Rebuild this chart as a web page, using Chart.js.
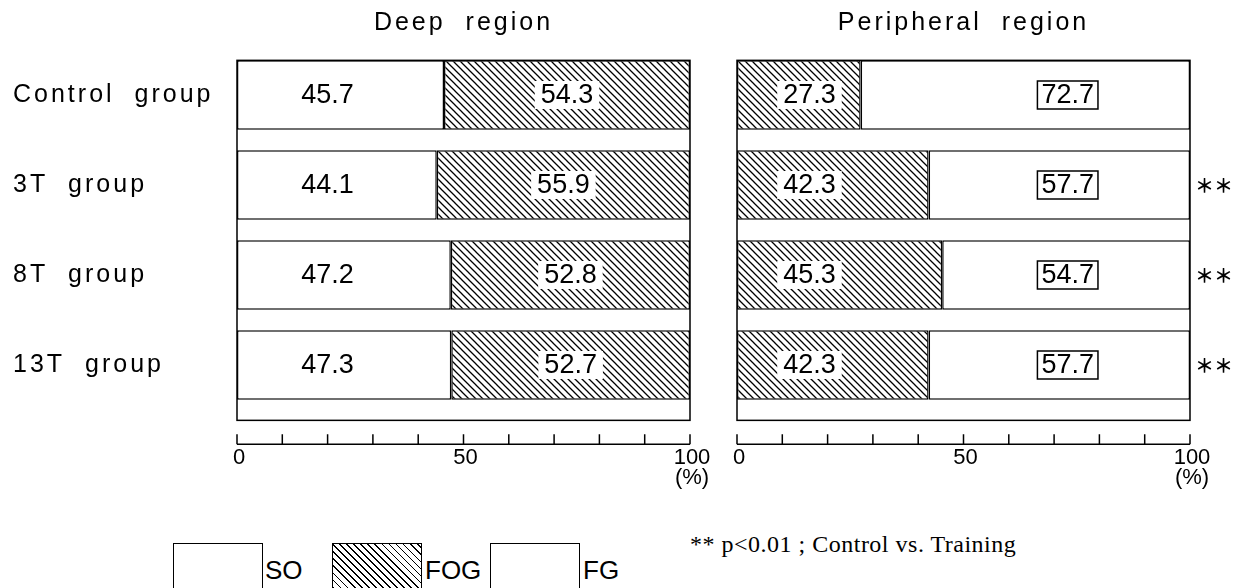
<!DOCTYPE html>
<html>
<head>
<meta charset="utf-8">
<script src="https://cdn.jsdelivr.net/npm/chart.js@4.4.1/dist/chart.umd.min.js"></script>
<style>
  body { margin: 0; width: 1236px; height: 588px; overflow: hidden; background: #fff; position: relative; font-family: "Liberation Sans", Arial, sans-serif; }
  #deepBox { position: absolute; left: 0; top: 0; width: 712px; height: 500px; }
  #periBox { position: absolute; left: 712px; top: 0; width: 524px; height: 500px; }
  .key { position: absolute; top: 543px; width: 90px; height: 60px; border: 1.5px solid #000; box-sizing: border-box; background: #fff; }
  .hatch { background: repeating-linear-gradient(45deg, #000 0 1.2px, #fff 1.2px 5px); }
  .keyText { position: absolute; top: 555px; font-size: 26px; color: #000; }
  #note { position: absolute; left: 690px; top: 531px; font-family: "Liberation Serif", serif; font-size: 24px; letter-spacing: 0.5px; color: #000; }
</style>
</head>
<body>
<div id="deepBox"><canvas id="deep"></canvas></div>
<div id="periBox"><canvas id="peri"></canvas></div>

<div class="key" style="left:173px"></div><div class="keyText" style="left:265px">SO</div>
<div class="key hatch" style="left:332px"></div><div class="keyText" style="left:425px">FOG</div>
<div class="key" style="left:490px"></div><div class="keyText" style="left:583px">FG</div>
<div id="note">** p&lt;0.01 ; Control vs. Training</div>

<script>
// values (% of fibres)
const groups = ['Control group', '3T group', '8T group', '13T group'];
const deepSO = [45.7, 44.1, 47.2, 47.3];
const deepFOG = [54.3, 55.9, 52.8, 52.7];
const periFOG = [27.3, 42.3, 45.3, 42.3];
const periFG = [72.7, 57.7, 54.7, 57.7];
const periSig = ['', '**', '**', '**'];
const xLabels = [0, 50, 100];
const xUnit = '(%)';

const BAR_PCT = 0.77;
const SANS = '"Liberation Sans", Arial, sans-serif';

function hatch(ctx) {
  const c = document.createElement('canvas');
  c.width = 7; c.height = 7;
  const g = c.getContext('2d');
  g.fillStyle = '#fff';
  g.fillRect(0, 0, 7, 7);
  g.strokeStyle = '#000';
  g.lineWidth = 1.3;
  g.beginPath();
  g.moveTo(-1, -1); g.lineTo(8, 8);
  g.moveTo(-1, 6); g.lineTo(1, 8);
  g.moveTo(6, -1); g.lineTo(8, 1);
  g.stroke();
  return ctx.createPattern(c, 'repeat');
}

function spaced(ctx, on) {
  ctx.letterSpacing = on ? '3px' : '0px';
  ctx.wordSpacing = on ? '10px' : '0px';
}

// frame, bottom axis, value labels, stars
const decor = {
  id: 'decor',
  beforeUpdate(chart) { spaced(chart.ctx, true); },
  beforeDraw(chart) { spaced(chart.ctx, true); },
  afterDatasetsDraw(chart) {
    const ctx = chart.ctx;
    const xs = chart.scales.x, ys = chart.scales.y;
    const slot = ys.getPixelForValue(1) - ys.getPixelForValue(0);
    const thick = slot * BAR_PCT;
    const top = ys.getPixelForValue(0) - thick / 2;
    const bottom = ys.getPixelForValue(groups.length - 1) + thick / 2 + (slot - thick);
    const left = xs.getPixelForValue(0), right = xs.getPixelForValue(100);
    ctx.save();
    spaced(ctx, false);
    ctx.strokeStyle = '#000';
    ctx.fillStyle = '#000';
    ctx.lineWidth = 1.5;
    ctx.strokeRect(left, top, right - left, bottom - top);

    // axis below the frame
    const ay = bottom + 24;
    ctx.beginPath();
    ctx.moveTo(left, ay); ctx.lineTo(right, ay);
    xs.ticks.forEach(t => {
      const px = xs.getPixelForValue(t.value);
      ctx.moveTo(px, ay); ctx.lineTo(px, ay - 10);
    });
    ctx.stroke();
    ctx.font = '22px ' + SANS;
    ctx.textAlign = 'center';
    ctx.textBaseline = 'middle';
    xLabels.forEach(v => ctx.fillText(String(v), xs.getPixelForValue(v) + 2, ay + 14));
    ctx.fillText(xUnit, xs.getPixelForValue(100) + 2, ay + 34);

    // values inside bars
    ctx.font = '27px ' + SANS;
    chart.data.datasets.forEach((ds, di) => {
      const meta = chart.getDatasetMeta(di);
      meta.data.forEach((bar, i) => {
        const txt = ds.data[i].toFixed(1);
        const cx = ds.labelAt != null ? xs.getPixelForValue(ds.labelAt) : (bar.x + bar.base) / 2;
        const cy = bar.y;
        const w = ctx.measureText(txt).width;
        if (ds.labelBox) {
          const pad = ds.labelBox === 'framed' ? 4 : 6;
          ctx.fillStyle = '#fff';
          ctx.fillRect(cx - w / 2 - pad, cy - 14, w + pad * 2, 28);
          if (ds.labelBox === 'framed') {
            ctx.lineWidth = 1.5;
            ctx.strokeRect(cx - w / 2 - pad, cy - 14, w + pad * 2, 28);
          }
        }
        ctx.fillStyle = '#000';
        ctx.fillText(txt, cx, cy + 1);
      });
    });

    const sig = chart.options.plugins.decor && chart.options.plugins.decor.sig;
    if (sig) {
      ctx.font = 'bold 19px "Noto Sans CJK JP", sans-serif';
      ctx.textAlign = 'left';
      sig.forEach((s, i) => {
        if (!s) return;
        ctx.fillText(s.replace(/\*/g, '\uFF0A'), right + 5, ys.getPixelForValue(i) + 1);
      });
    }
    ctx.restore();
    spaced(ctx, false);
  }
};

function makeChart(id, title, sets, pad, showY, sig) {
  const ctx = document.getElementById(id).getContext('2d');
  return new Chart(ctx, {
    type: 'bar',
    data: {
      labels: groups,
      datasets: sets.map(s => ({
        label: s.label,
        data: s.data,
        backgroundColor: s.hatched ? hatch(ctx) : '#fff',
        borderColor: '#000',
        borderWidth: 1.5,
        borderSkipped: false,
        barPercentage: BAR_PCT,
        categoryPercentage: 1,
        labelAt: s.labelAt,
        labelBox: s.labelBox
      }))
    },
    options: {
      indexAxis: 'y',
      responsive: true,
      maintainAspectRatio: false,
      animation: false,
      layout: { padding: { left: pad[0], right: pad[1], top: 0, bottom: 0 } },
      plugins: {
        legend: { display: false },
        tooltip: { enabled: false },
        title: {
          display: true,
          text: title,
          fullSize: false,
          color: '#000',
          font: { family: SANS, size: 25, weight: 'normal' },
          padding: { top: 8, bottom: 12 }
        },
        decor: { sig: sig }
      },
      scales: {
        x: {
          type: 'linear',
          stacked: true,
          min: 0,
          max: 100,
          grid: { display: false, drawTicks: false },
          border: { display: false },
          ticks: { stepSize: 10, display: false },
          afterFit: s => { s.height = 90; }
        },
        y: {
          type: 'category',
          stacked: true,
          offset: true,
          display: showY,
          grid: { display: false, drawTicks: false },
          border: { display: false },
          ticks: {
            crossAlign: 'far',
            padding: 0,
            color: '#000',
            font: { family: SANS, size: 25 }
          },
          afterFit: s => { if (showY) s.width = 224; }
        }
      }
    },
    plugins: [decor]
  });
}

makeChart('deep', 'Deep region', [
  { label: 'SO', data: deepSO, hatched: false, labelAt: 20, labelBox: null },
  { label: 'FOG', data: deepFOG, hatched: true, labelAt: null, labelBox: 'clear' }
], [13, 22], true, null);

makeChart('peri', 'Peripheral region', [
  { label: 'FOG', data: periFOG, hatched: true, labelAt: 16, labelBox: 'clear' },
  { label: 'FG', data: periFG, hatched: false, labelAt: 73, labelBox: 'framed' }
], [25, 46], false, periSig);
</script>
</body>
</html>
